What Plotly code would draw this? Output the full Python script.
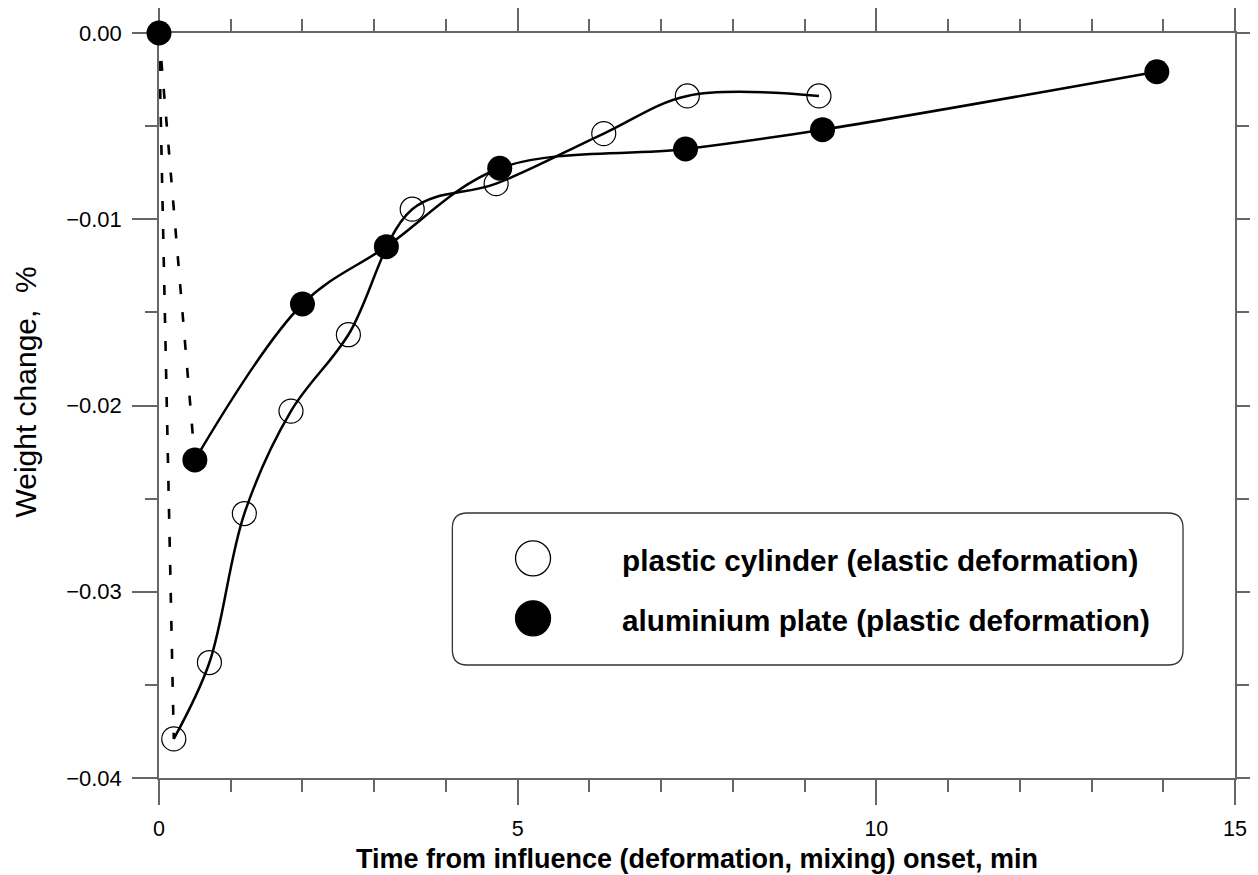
import plotly.graph_objects as go

# ---- data ----
t_plastic = [0.206, 0.703, 1.19, 1.84, 2.64, 3.53, 4.70, 6.20, 7.365, 9.20]
w_plastic = [-0.0379, -0.0338, -0.0258, -0.0203, -0.0162, -0.00946, -0.00809, -0.00540, -0.00338, -0.00338]

t_alu = [0.0, 0.50, 2.00, 3.17, 4.75, 7.34, 9.25, 13.91]
w_alu = [0.0, -0.02292, -0.01455, -0.01147, -0.00726, -0.00623, -0.00519, -0.00208]

name_plastic = "plastic cylinder (elastic deformation)"
name_alu = "aluminium plate (plastic deformation)"

x_title = "Time from influence (deformation, mixing) onset, min"
y_title = "Weight change,  %"

x_ticks = [0, 5, 10, 15]
y_ticks = [0.0, -0.01, -0.02, -0.03, -0.04]

FONT = "Liberation Sans, Arial, sans-serif"
AXC = "#666666"

# page offset (body margin) and target plot-area geometry in screen pixels
OFF = 8
W, H = 1250, 867
L, R, T, B = 158.5, 1235.0, 33.0, 778.0
PW, PH = R - L, B - T

def px(xs):
    return (xs - L) / PW

def py(ys):
    return (B - ys) / PH

fig = go.Figure()

# dashed initial segments from the common origin
fig.add_trace(go.Scatter(x=[t_alu[0], t_plastic[0]], y=[w_alu[0], w_plastic[0]], mode="lines",
                         line=dict(color="black", width=2.6, dash="10px,18px"),
                         showlegend=False, cliponaxis=False, hoverinfo="skip"))
fig.add_trace(go.Scatter(x=t_alu[:2], y=w_alu[:2], mode="lines",
                         line=dict(color="black", width=2.6, dash="10px,18px"),
                         showlegend=False, cliponaxis=False, hoverinfo="skip"))

# smooth curves
fig.add_trace(go.Scatter(x=t_plastic, y=w_plastic, mode="lines",
                         line=dict(color="black", width=2.5, shape="spline", smoothing=1.0),
                         showlegend=False, cliponaxis=False, hoverinfo="skip"))
fig.add_trace(go.Scatter(x=t_alu[1:], y=w_alu[1:], mode="lines",
                         line=dict(color="black", width=2.5, shape="spline", smoothing=1.0),
                         showlegend=False, cliponaxis=False, hoverinfo="skip"))

# markers
fig.add_trace(go.Scatter(x=t_plastic, y=w_plastic, mode="markers", name=name_plastic,
                         marker=dict(symbol="circle-open", size=24, color="black", line=dict(width=1.2)),
                         showlegend=False, cliponaxis=False))
fig.add_trace(go.Scatter(x=t_alu, y=w_alu, mode="markers", name=name_alu,
                         marker=dict(symbol="circle", size=25, color="black"),
                         showlegend=False, cliponaxis=False))

axis_common = dict(
    showline=True, linecolor=AXC, linewidth=1.5, mirror="allticks",
    ticks="outside", ticklen=25, tickwidth=1.5, tickcolor=AXC,
    showgrid=False, zeroline=False, automargin=False,
    layer="below traces",
)

fig.update_xaxes(range=[0, 15], tickvals=x_ticks, ticktext=[str(v) for v in x_ticks],
                 tickfont=dict(family=FONT, size=21.5, color="black"),
                 minor=dict(dtick=1, tick0=0, ticks="outside", ticklen=12, tickwidth=1.5, tickcolor=AXC),
                 ticklabelstandoff=5, **axis_common)
fig.update_yaxes(range=[-0.04, 0.0], tickvals=y_ticks, tickformat=".2f",
                 tickfont=dict(family=FONT, size=22, color="black"),
                 minor=dict(dtick=0.005, tick0=0, ticks="outside", ticklen=12, tickwidth=1.5, tickcolor=AXC),
                 ticklabelstandoff=6, **axis_common)

# legend box (rounded rectangle) drawn in paper coords
bx0, bx1, by0, by1 = px(452), px(1183), py(665), py(513)
rx, ry = 15 / PW, 15 / PH
path = (f"M {bx0+rx},{by0} L {bx1-rx},{by0} Q {bx1},{by0} {bx1},{by0+ry} "
        f"L {bx1},{by1-ry} Q {bx1},{by1} {bx1-rx},{by1} "
        f"L {bx0+rx},{by1} Q {bx0},{by1} {bx0},{by1-ry} "
        f"L {bx0},{by0+ry} Q {bx0},{by0} {bx0+rx},{by0} Z")
shapes = [dict(type="path", path=path, xref="paper", yref="paper",
               line=dict(color="#333333", width=1.3), fillcolor="white", layer="above")]
for cy, filled in [(558.3, False), (618.3, True)]:
    shapes.append(dict(type="circle", xref="paper", yref="paper",
                       xsizemode="pixel", ysizemode="pixel",
                       xanchor=px(532.7), yanchor=py(cy),
                       x0=-17.5, x1=17.5, y0=-17.5, y1=17.5,
                       line=dict(color="black", width=1.3),
                       fillcolor="black" if filled else "white", layer="above"))

annotations = [
    dict(text=f"<b>{name_plastic}</b>", xref="paper", yref="paper", x=px(620), y=py(560),
         xanchor="left", yanchor="middle", showarrow=False,
         font=dict(family=FONT, size=29.7, color="black")),
    dict(text=f"<b>{name_alu}</b>", xref="paper", yref="paper", x=px(620), y=py(620),
         xanchor="left", yanchor="middle", showarrow=False,
         font=dict(family=FONT, size=29.7, color="black")),
    dict(text=f"<b>{x_title}</b>", xref="paper", yref="paper", x=0.5, y=py(858.5),
         xanchor="center", yanchor="middle", showarrow=False,
         font=dict(family=FONT, size=27, color="black")),
    dict(text=y_title, xref="paper", yref="paper", x=px(24), y=py(392),
         xanchor="center", yanchor="middle", showarrow=False, textangle=-90,
         font=dict(family=FONT, size=30, color="black")),
]

fig.update_layout(
    width=W, height=H, autosize=False,
    margin=dict(l=L - OFF, r=W - (R - OFF), t=T - OFF, b=H - (B - OFF), pad=0, autoexpand=False),
    plot_bgcolor="white", paper_bgcolor="white",
    showlegend=False,
    shapes=shapes, annotations=annotations,
    font=dict(family=FONT, color="black"),
)

fig.write_html("out.html")
